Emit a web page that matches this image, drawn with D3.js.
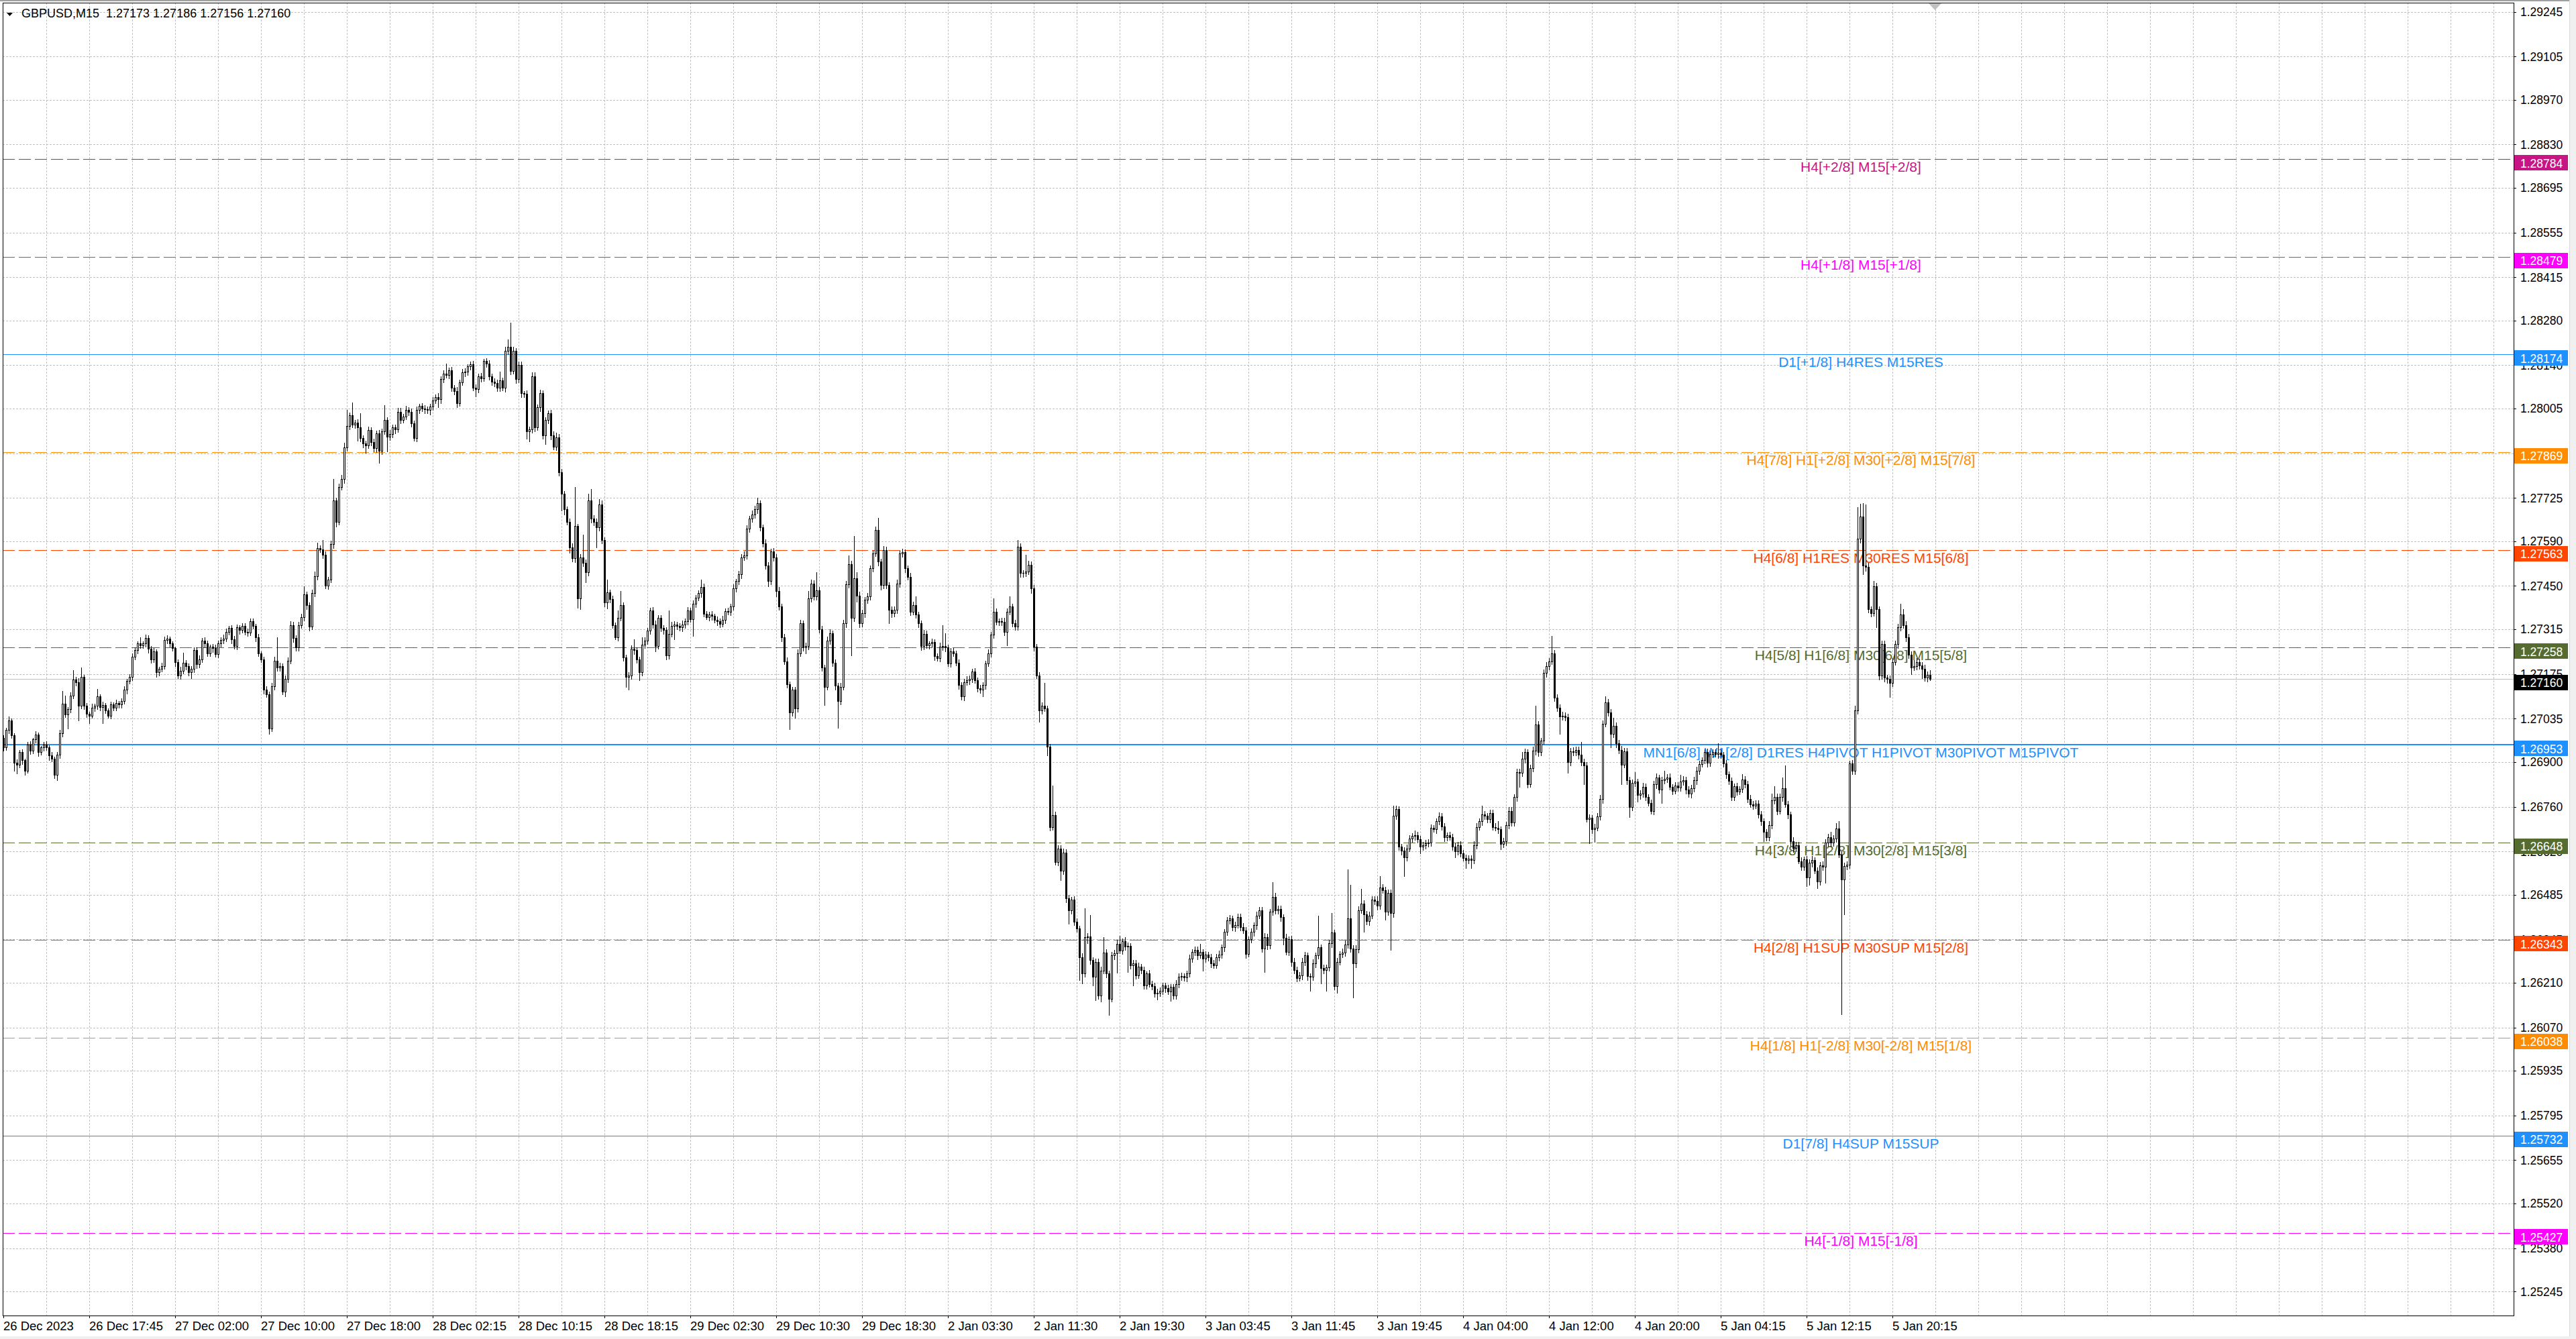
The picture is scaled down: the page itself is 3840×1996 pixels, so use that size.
<!DOCTYPE html>
<html><head><meta charset="utf-8">
<script src="https://cdn.jsdelivr.net/npm/d3@7/dist/d3.min.js"></script>
<style>html,body{margin:0;padding:0;background:#fff;overflow:hidden}svg{display:block}</style>
</head><body>
<svg id="c" width="3840" height="1996"></svg>
<script>
// ---------------- DATA ----------------
const symbolTitle = "GBPUSD,M15  1.27173 1.27186 1.27156 1.27160";
const BASE = 1.26, POINT = 0.00001;           // closes / wicks are stored in points above 1.26000
const firstOpenPts = 975;
const closePts = [
945,1000,1030,984,897,892,930,905,872,955,
935,970,985,930,945,955,945,920,910,860,
922,990,1083,1048,1065,1108,1158,1150,1075,1165,
1075,1050,1045,1070,1075,1105,1072,1078,1060,1045,
1080,1070,1085,1080,1090,1125,1153,1165,1229,1250,
1270,1265,1270,1287,1253,1220,1245,1180,1190,1200,
1282,1285,1270,1255,1212,1170,1185,1210,1200,1180,
1190,1250,1205,1220,1280,1270,1240,1260,1255,1237,
1270,1282,1285,1307,1318,1283,1262,1320,1312,1325,
1307,1305,1340,1325,1290,1240,1220,1125,1112,1005,
1137,1216,1195,1200,1120,1160,1216,1328,1287,1258,
1328,1352,1423,1390,1324,1427,1481,1568,1565,1548,
1452,1470,1580,1717,1651,1759,1784,1883,1950,1983,
1954,1960,1945,1912,1895,1890,1937,1900,1880,1928,
1872,1933,1970,1917,1925,1945,1940,1995,1970,1980,
2000,1995,1958,1912,2000,2012,2005,2003,2000,2010,
2030,2040,2033,2096,2114,2110,2125,2070,2060,2022,
2086,2118,2120,2136,2142,2070,2065,2105,2100,2153,
2145,2105,2088,2085,2070,2092,2070,2185,2198,2123,
2185,2096,2141,2052,2050,1933,1940,2105,1946,2008,
2052,1920,1968,1990,1920,1885,1915,1805,1739,1690,
1651,1571,1536,1637,1412,1540,1523,1492,1717,1660,
1650,1633,1704,1593,1399,1430,1410,1328,1290,1350,
1390,1227,1165,1170,1253,1250,1220,1180,1266,1280,
1310,1373,1330,1262,1350,1318,1312,1232,1300,1325,
1330,1325,1320,1330,1340,1373,1346,1395,1414,1427,
1447,1364,1352,1360,1356,1345,1340,1332,1345,1372,
1370,1385,1443,1465,1487,1540,1545,1629,1660,1673,
1690,1708,1633,1584,1514,1465,1558,1540,1435,1386,
1289,1214,1143,1055,1125,1068,1240,1333,1258,1262,
1412,1457,1417,1437,1315,1196,1134,1280,1302,1210,
1139,1090,1134,1333,1456,1518,1350,1474,1420,1333,
1365,1406,1417,1506,1552,1625,1526,1453,1563,1453,
1375,1365,1375,1458,1552,1555,1505,1479,1370,1390,
1360,1333,1262,1300,1265,1270,1275,1230,1225,1260,
1262,1258,1208,1245,1240,1210,1140,1104,1150,1155,
1160,1182,1155,1130,1125,1140,1208,1240,1297,1370,
1338,1340,1338,1307,1370,1385,1333,1323,1573,1490,
1490,1495,1516,1443,1260,1171,1062,1075,1067,947,
697,733,588,630,560,617,473,436,470,400,
379,290,238,353,355,280,228,275,170,248,
305,238,160,295,302,332,311,340,322,325,
265,270,233,260,250,201,238,206,200,176,
178,185,201,193,182,196,170,206,228,230,
226,238,285,306,312,296,306,285,297,290,
270,265,290,298,320,368,405,410,384,390,
415,384,374,300,345,368,390,420,436,316,
353,326,431,478,436,440,415,350,306,345,
275,250,225,233,275,295,230,228,270,295,
320,255,250,258,333,366,200,275,300,305,
330,411,316,270,315,437,457,424,403,420,
470,465,450,507,500,432,490,428,731,752,
635,622,602,630,660,668,670,658,635,640,
645,648,693,690,714,730,698,665,670,665,
635,620,640,615,600,594,598,593,640,697,
714,735,732,722,740,697,694,690,644,652,
702,747,710,790,868,866,910,930,830,880,
935,1017,930,967,1178,1199,1215,1240,1100,1070,
1042,1045,1040,900,933,930,938,922,900,888,
722,725,690,695,730,784,1020,1087,1054,988,
1012,958,938,892,934,843,760,834,838,797,
800,822,790,772,747,830,851,814,843,847,
851,822,810,826,820,838,843,814,800,817,
843,872,893,905,930,897,925,930,925,928,
922,895,862,840,790,823,808,815,845,830,
785,768,763,770,735,714,681,665,703,780,
790,747,790,818,768,735,653,631,640,590,
572,595,538,585,593,560,527,577,572,648,
665,648,661,692,610,532,575,578,895,873,
1060,1597,1668,1514,1510,1377,1366,1448,1377,1169,
1268,1163,1160,1147,1213,1268,1322,1360,1328,1290,
1235,1196,1200,1213,1202,1192,1164,1173,1160];
const upperWickPts = [
8,6,12,5,6,10,7,9,6,8,
9,6,11,7,5,8,9,6,10,7,
8,10,38,25,6,9,29,8,12,30,
7,9,6,11,8,24,6,10,7,8,
9,7,10,6,8,12,7,9,11,8,
6,20,7,10,8,9,11,7,8,10,
9,10,7,8,6,9,12,31,8,7,
10,9,8,12,7,9,10,6,8,11,
9,7,12,10,8,9,11,10,7,9,
8,10,9,8,7,10,6,9,12,8,
10,12,74,9,8,11,10,12,9,8,
10,12,25,9,8,11,14,17,9,28,
10,9,12,67,8,10,12,14,50,10,
41,9,12,46,8,10,12,9,11,8,
10,9,46,8,12,10,9,12,11,8,
12,9,10,8,11,8,9,10,8,9,
10,8,12,9,11,31,8,10,9,12,
9,11,10,8,9,12,10,8,11,7,
9,10,8,11,9,27,10,12,22,75,
12,9,11,10,8,12,9,13,13,10,
12,9,10,8,11,14,14,9,10,8,
9,10,12,123,8,10,71,9,22,35,
12,10,17,14,8,40,9,10,8,23,
45,9,8,10,12,31,9,8,23,10,
9,8,10,12,9,9,10,8,73,12,
10,8,9,11,8,10,9,10,8,9,
23,10,8,9,11,8,10,9,12,8,
10,9,12,8,10,9,13,10,9,12,
10,18,9,8,12,10,9,11,10,12,
9,10,12,8,10,9,11,12,9,10,
23,12,10,55,9,10,8,11,12,9,
10,8,12,11,9,27,10,133,20,12,
10,9,12,8,10,11,37,9,12,10,
9,12,10,11,8,12,10,9,11,10,
27,10,9,12,10,8,11,9,10,12,
66,40,9,10,12,8,11,10,9,12,
10,9,12,8,11,10,9,12,10,42,
10,9,11,12,10,32,9,11,21,10,
9,52,12,10,11,9,10,12,71,9,
10,94,12,10,9,11,10,12,9,10,
11,9,12,90,10,66,9,11,10,12,
48,10,9,12,10,11,25,9,12,10,
9,11,10,12,9,10,8,11,10,9,
12,10,9,8,11,10,9,12,10,11,
9,10,12,8,11,10,26,9,12,10,
9,11,10,12,9,10,11,12,9,10,
11,10,12,9,10,11,9,12,10,11,
12,10,9,47,12,10,11,9,12,10,
11,12,9,10,12,11,10,9,12,10,
100,10,12,9,11,62,10,12,9,11,
12,154,104,10,11,12,46,10,9,12,
11,10,16,37,10,9,12,11,33,12,
10,9,12,11,10,9,15,12,10,9,
11,10,12,9,10,12,11,10,9,12,
10,11,9,12,10,11,9,10,12,11,
10,29,12,9,11,10,12,20,9,11,
10,13,12,9,11,10,20,12,9,11,
12,58,10,9,11,12,10,54,9,11,
10,12,9,11,10,12,9,10,41,11,
12,10,9,11,10,12,9,17,10,12,
26,11,10,12,9,10,11,12,30,10,
11,12,10,9,11,10,12,9,11,25,
10,12,9,11,10,21,12,10,9,11,
10,12,11,9,10,12,11,10,9,30,
12,10,11,9,12,10,11,9,17,10,
11,12,10,9,11,12,10,9,12,21,
33,10,12,33,71,10,9,12,11,10,
12,9,11,10,12,9,10,11,12,10,
10,17,9,16,22,11,10,12,9,11,
15,100,38,42,190,12,10,17,11,10,
12,11,9,10,12,11,10,34,17,12,
10,11,18,12,10,9,11,10,13];
const lowerWickPts = [
9,7,10,8,25,28,9,11,12,7,
10,8,9,11,7,10,8,15,9,11,
17,9,10,8,43,10,9,11,45,8,
10,9,24,8,11,9,10,51,8,7,
10,9,8,11,10,9,12,8,10,9,
11,8,10,9,12,10,9,14,10,8,
9,11,10,8,12,8,10,9,11,10,
18,9,11,10,8,12,9,10,11,8,
10,9,11,8,10,12,9,10,11,8,
9,11,10,8,12,10,9,11,10,17,
9,12,10,11,8,16,10,9,12,10,
11,9,10,12,13,10,9,11,10,12,
10,12,9,11,16,10,9,12,10,11,
9,11,41,10,12,23,9,11,10,12,
38,10,9,46,11,10,12,9,11,10,
9,12,10,8,11,10,9,12,10,14,
10,9,25,11,10,9,12,10,11,14,
10,9,12,11,10,9,22,10,12,9,
11,10,9,12,10,11,9,12,10,11,
10,12,9,11,10,22,31,10,12,9,
11,10,27,9,12,9,10,11,53,17,
10,17,9,12,31,35,11,31,10,12,
11,62,10,9,12,20,11,10,6,10,
9,11,31,40,10,12,11,24,10,9,
11,10,12,17,9,10,11,12,10,9,
41,10,9,11,12,10,9,53,11,10,
12,10,6,9,11,10,12,12,9,11,
10,12,9,11,10,12,9,10,11,9,
10,12,9,11,10,17,9,12,18,10,
12,9,11,53,10,31,12,9,11,18,
10,12,9,11,10,12,57,9,11,10,
12,84,10,9,11,12,118,10,20,11,
10,12,9,11,10,9,12,15,10,11,
42,12,10,9,11,10,12,9,11,10,
9,11,12,10,9,11,10,12,9,11,
10,12,9,11,10,9,12,10,11,9,
12,10,9,11,10,20,12,9,11,10,
9,11,10,12,42,10,9,11,10,12,
11,10,9,16,12,10,36,11,9,26,
12,10,9,11,30,10,12,41,10,9,
11,73,31,10,20,12,26,73,11,20,
10,12,52,9,11,60,10,12,9,79,
11,64,10,9,12,10,11,9,12,10,
18,11,10,12,9,30,11,10,12,9,
10,12,9,11,10,12,9,37,10,11,
12,10,9,11,10,12,9,11,10,12,
9,11,10,12,9,10,11,12,9,10,
73,12,10,9,11,10,12,21,9,11,
12,10,11,9,12,10,11,44,10,12,
9,47,11,66,10,12,11,21,9,10,
12,11,10,107,12,10,9,54,11,12,
10,11,12,9,10,25,11,116,12,10,
11,12,58,10,9,11,12,10,20,11,
12,10,11,9,12,10,11,12,10,9,
11,18,10,12,9,25,11,24,10,12,
9,11,10,12,11,10,9,12,17,10,
12,11,10,9,12,44,10,12,11,8,
10,12,11,9,10,12,11,10,9,12,
54,11,10,33,12,10,9,11,12,58,
10,77,12,39,10,11,12,10,9,42,
10,12,11,62,10,12,33,11,10,21,
12,10,11,9,8,10,12,11,42,10,
11,9,12,10,11,10,9,12,10,11,
10,12,11,9,10,12,11,10,9,12,
10,11,12,9,10,11,12,10,9,11,
12,10,11,9,10,12,28,11,10,12,
10,11,9,12,10,11,16,12,10,8,
11,10,27,22,12,9,22,11,10,50,
10,12,11,10,9,421,109,12,10,11,
12,10,11,27,12,10,11,10,55,12,
10,11,12,44,10,9,12,11,10,12,
11,22,10,12,11,30,10,12,4];

const priceTicks = [1.29245,1.29105,1.28970,1.28830,1.28695,1.28555,1.28415,1.28280,1.28140,1.28005,
  1.27865,1.27725,1.27590,1.27450,1.27315,1.27175,1.27035,1.26900,1.26760,1.26620,1.26485,1.26345,
  1.26210,1.26070,1.25935,1.25795,1.25655,1.25520,1.25380,1.25245];
const timeLabels = ["26 Dec 2023","26 Dec 17:45","27 Dec 02:00","27 Dec 10:00","27 Dec 18:00","28 Dec 02:15",
  "28 Dec 10:15","28 Dec 18:15","29 Dec 02:30","29 Dec 10:30","29 Dec 18:30","2 Jan 03:30","2 Jan 11:30",
  "2 Jan 19:30","3 Jan 03:45","3 Jan 11:45","3 Jan 19:45","4 Jan 04:00","4 Jan 12:00","4 Jan 20:00",
  "5 Jan 04:15","5 Jan 12:15","5 Jan 20:15"];
const levelPrices = [1.28784,1.28479,1.28174,1.27869,1.27563,1.27258,1.26953,1.26648,1.26343,1.26038,1.25732,1.25427];
const levelLabels = ["H4[+2/8] M15[+2/8]","H4[+1/8] M15[+1/8]","D1[+1/8] H4RES M15RES",
  "H4[7/8] H1[+2/8] M30[+2/8] M15[7/8]","H4[6/8] H1RES M30RES M15[6/8]","H4[5/8] H1[6/8] M30[6/8] M15[5/8]",
  "MN1[6/8] W1[2/8] D1RES H4PIVOT H1PIVOT M30PIVOT M15PIVOT","H4[3/8] H1[2/8] M30[2/8] M15[3/8]",
  "H4[2/8] H1SUP M30SUP M15[2/8]","H4[1/8] H1[-2/8] M30[-2/8] M15[1/8]","D1[7/8] H4SUP M15SUP","H4[-1/8] M15[-1/8]"];
const currentPrice = 1.27160;

// ---------------- STYLE ----------------
const levelColors = ["#C71585","#FF00FF","#1E90FF","#FF8C00","#FF4500","#556B2F","#1E90FF","#556B2F","#FF4500","#FF8C00","#1E90FF","#FF00FF"];
const levelDashed = [true,true,false,true,true,true,false,true,true,true,false,true];
const levelWidth  = [1,1,1,1,1,1,2,1,1,1,1,1];
const FONT = "'Liberation Sans', Arial, sans-serif";

// ---------------- CHART ----------------
const W = 3840, H = 1996;
const plot = {l:4, t:4, r:3747, b:1961};
const svg = d3.select("#c");
const y = d3.scaleLinear().domain([1.25245, 1.29245]).range([1925, 17.5]);
const x = d3.scaleLinear().domain([0, closePts.length - 1]).range([5, 2877]);
const px = v => Math.round(v) + 0.5;

const bars = closePts.map((c, i) => {
  const o = i === 0 ? firstOpenPts : closePts[i - 1];
  const hi = Math.max(o, c) + upperWickPts[i];
  const lo = Math.min(o, c) - lowerWickPts[i];
  return {i, o: BASE + o * POINT, c: BASE + c * POINT, h: BASE + hi * POINT, l: BASE + lo * POINT};
});

// window background / frame
svg.append("rect").attr("width", W).attr("height", H).attr("fill", "#fff");
svg.append("rect").attr("x", 0).attr("y", 0).attr("width", W).attr("height", 2).attr("fill", "#A0A0A0");
svg.append("rect").attr("x", 3830).attr("y", 0).attr("width", 10).attr("height", H).attr("fill", "#F0F0F0");
svg.append("line").attr("x1", 3830.5).attr("x2", 3830.5).attr("y1", 0).attr("y2", H).attr("stroke", "#D8D8D8");
svg.append("rect").attr("x", 0).attr("y", 1992).attr("width", W).attr("height", 4).attr("fill", "#F0F0F0");

svg.append("defs").append("clipPath").attr("id", "pc").append("rect")
  .attr("x", plot.l + 1).attr("y", plot.t + 1).attr("width", plot.r - plot.l - 1).attr("height", plot.b - plot.t - 1);
const g = svg.append("g").attr("clip-path", "url(#pc)");

// grid
g.selectAll("line.hg").data(priceTicks).enter().append("line")
  .attr("x1", plot.l).attr("x2", plot.r).attr("y1", d => px(y(d))).attr("y2", d => px(y(d)))
  .attr("stroke", "#C0C0C0").attr("stroke-width", 1).attr("stroke-dasharray", "3,2");
const vgrid = d3.range(16, 1000, 16).filter(k => x(k) < plot.r);
g.selectAll("line.vg").data(vgrid).enter().append("line")
  .attr("x1", d => px(x(d))).attr("x2", d => px(x(d))).attr("y1", plot.t).attr("y2", plot.b)
  .attr("stroke", "#C0C0C0").attr("stroke-width", 1).attr("stroke-dasharray", "3,2");

// level lines
g.selectAll("line.lv").data(levelPrices).enter().append("line")
  .attr("x1", plot.l).attr("x2", plot.r)
  .attr("y1", (d, i) => levelWidth[i] === 2 ? Math.round(y(d)) : px(y(d)))
  .attr("y2", (d, i) => levelWidth[i] === 2 ? Math.round(y(d)) : px(y(d)))
  .attr("stroke", (d, i) => levelColors[i]).attr("stroke-width", (d, i) => levelWidth[i])
  .attr("stroke-dasharray", (d, i) => levelDashed[i] ? "18,6" : null);
// current price line
g.append("line").attr("x1", plot.l).attr("x2", plot.r).attr("y1", px(y(currentPrice))).attr("y2", px(y(currentPrice)))
  .attr("stroke", "#C0C0C0").attr("stroke-width", 1);

// level labels
g.selectAll("text.ll").data(levelPrices).enter().append("text")
  .attr("x", 2774).attr("y", d => y(d) + 19).attr("text-anchor", "middle")
  .attr("font-family", FONT).attr("font-size", 21).attr("fill", (d, i) => levelColors[i])
  .text((d, i) => levelLabels[i]);

// candles
const cg = g.append("g");
cg.selectAll("line.wk").data(bars).enter().append("line")
  .attr("x1", d => Math.round(x(d.i)) + 0.5).attr("x2", d => Math.round(x(d.i)) + 0.5)
  .attr("y1", d => Math.round(y(d.h))).attr("y2", d => Math.round(y(d.l)) + 1)
  .attr("stroke", "#000").attr("stroke-width", 1);
cg.selectAll("rect.bd").data(bars).enter().append("rect")
  .attr("x", d => Math.round(x(d.i)) - 0.5).attr("width", 2)
  .attr("y", d => Math.round(y(Math.max(d.o, d.c))) + 0.5)
  .attr("height", d => Math.max(0.01, Math.round(y(Math.min(d.o, d.c))) - Math.round(y(Math.max(d.o, d.c)))))
  .attr("fill", d => d.c >= d.o ? "#fff" : "#000").attr("stroke", "#000").attr("stroke-width", 1);

// plot border
svg.append("rect").attr("x", plot.l + 0.5).attr("y", plot.t + 0.5).attr("width", plot.r - plot.l).attr("height", plot.b - plot.t)
  .attr("fill", "none").attr("stroke", "#000").attr("stroke-width", 1);

// shift marker
svg.append("path").attr("d", "M2875,5 L2894,5 L2884.5,15 Z").attr("fill", "#C0C0C0");

// right price axis
const ax = svg.append("g");
ax.selectAll("line.tk").data(priceTicks).enter().append("line")
  .attr("x1", plot.r).attr("x2", plot.r + 4).attr("y1", d => px(y(d))).attr("y2", d => px(y(d))).attr("stroke", "#000");
ax.selectAll("text.tl").data(priceTicks).enter().append("text")
  .attr("x", 3757).attr("y", d => y(d) + 6.5).attr("font-family", FONT).attr("font-size", 17.5).attr("fill", "#000")
  .text(d => d.toFixed(5));

// price tags
const tagPrices = levelPrices.concat([currentPrice]);
const tagColors = levelColors.concat(["#000000"]);
const tags = ax.selectAll("g.tag").data(tagPrices).enter().append("g");
tags.append("rect").attr("x", plot.r + 1).attr("y", d => Math.round(y(d)) - 6).attr("width", 80).attr("height", 23)
  .attr("fill", (d, i) => tagColors[i]);
tags.append("text").attr("x", 3757).attr("y", d => y(d) + 12.5).attr("font-family", FONT).attr("font-size", 17.5)
  .attr("fill", "#fff").text(d => d.toFixed(5));

// time axis
const tl = svg.append("g");
tl.selectAll("line.tt").data(timeLabels).enter().append("line")
  .attr("x1", (d, i) => px(x(i * 32))).attr("x2", (d, i) => px(x(i * 32)))
  .attr("y1", plot.b).attr("y2", plot.b + 4).attr("stroke", "#000");
tl.selectAll("text.tx").data(timeLabels).enter().append("text")
  .attr("x", (d, i) => Math.round(x(i * 32))).attr("y", 1983).attr("font-family", FONT).attr("font-size", 18.5)
  .attr("fill", "#000").text(d => d);

// header
svg.append("path").attr("d", "M10,19 L19,19 L14.5,24 Z").attr("fill", "#000");
svg.append("text").attr("x", 32).attr("y", 26).attr("font-family", FONT).attr("font-size", 18).attr("fill", "#000")
  .attr("xml:space", "preserve").style("white-space", "pre").text(symbolTitle);
</script>
</body></html>
